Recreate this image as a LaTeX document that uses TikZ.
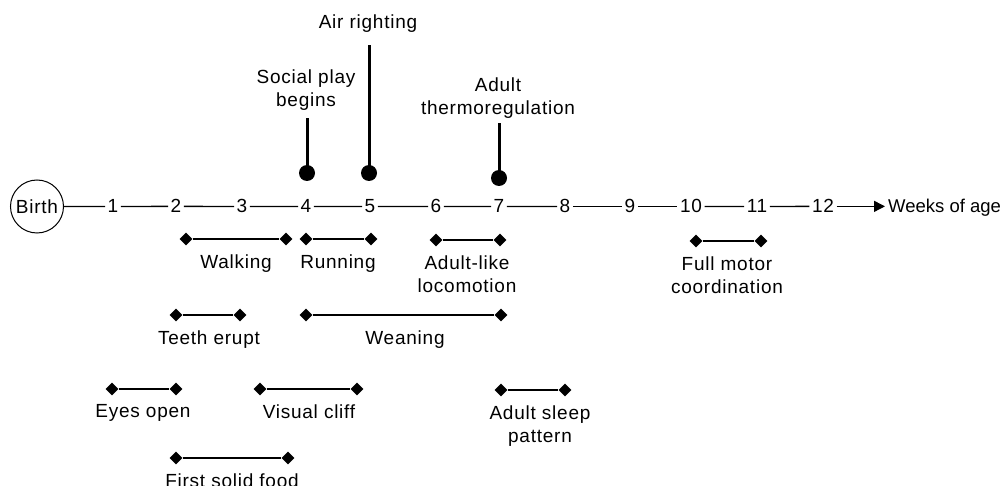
\documentclass[tikz,border=0pt]{standalone}
\usepackage{fontspec}
\setmainfont{Liberation Sans}[LetterSpace=4]
\newfontfamily\plainsans{Liberation Sans}
\usetikzlibrary{shapes.geometric,arrows.meta}
\newcommand{\myint}[6]{%
  \node[tip] (#1a) at (#2,#4) {};
  \node[tip] (#1b) at (#3,#4) {};
  \draw[bar] (#1a) -- (#1b);
  \node[lbl] (#1l) at (#5,#4+15.5) {#6};}
\begin{document}
\begin{tikzpicture}[x=1pt,y=-1pt,
  every node/.style={font=\fontsize{19}{23}\selectfont},
  num/.style={anchor=base,inner sep=2.5pt},
  axis/.style={line width=1.3pt},
  tip/.style={diamond,fill=black,inner sep=0pt,minimum size=13pt},
  bar/.style={line width=2.4pt},
  lbl/.style={anchor=north,inner sep=0pt,align=center},
  dot/.style={circle,fill=black,inner sep=0pt,minimum size=16pt},
  stem/.style={line width=3pt}]
\useasboundingbox (0,0) rectangle (1004,486);
% axis
\node[circle,draw,line width=1pt,inner sep=0pt,minimum size=53pt] (birth) at (37,206.5) {Birth};
\foreach \n/\x in {1/113,2/176,3/242,4/306,5/370,6/436,7/499,8/565,9/630,10/691,11/757,12/823}
  \node[num] (n\n) at (\x,213) {\n};
\node[anchor=base west,inner sep=3pt,font=\plainsans\fontsize{18.5}{22}\selectfont] (weeks) at (885,213) {Weeks of age};
\draw[axis] (birth.east) -- (n1.west);
\foreach \a/\b in {1/2,2/3,3/4,4/5,5/6,6/7,7/8,8/9,9/10,10/11,11/12}
  \draw[axis] (n\a.east) -- (n\b.west);
\draw[axis,-{Triangle[length=11pt,width=11pt]}] (n12.east) -- (n12.east -| weeks.west);
% point events
\node[dot] (dsoc) at (307,173) {};
\coordinate (tsoc) at (307,118);
\node[lbl] (lsoc) at (306,69.5) {Social play\\begins};
\draw[stem] (dsoc.center) -- (tsoc);
\node[dot] (dair) at (369,173) {};
\coordinate (tair) at (369,45);
\node[lbl] (lair) at (368,14.5) {Air righting};
\draw[stem] (dair.center) -- (tair);
\node[dot] (dthe) at (499,178) {};
\coordinate (tthe) at (499,123);
\node[lbl] (lthe) at (498,77.5) {Adult\\thermoregulation};
\draw[stem] (dthe.center) -- (tthe);
% intervals
\myint{walk}{186}{286}{239}{236}{Walking}
\myint{run}{306}{371}{239}{338}{Running}
\myint{loco}{436}{500}{240}{467}{Adult-like\\locomotion}
\myint{motor}{696}{761}{241}{727}{Full motor\\coordination}
\myint{teeth}{176}{240}{315}{209}{Teeth erupt}
\myint{wean}{306}{501}{315}{405}{Weaning}
\myint{eyes}{112}{176}{389}{143}{Eyes open}
\myint{cliff}{260}{357}{389}{309}{Visual cliff}
\myint{sleep}{501}{565}{390}{540}{Adult sleep\\pattern}
\myint{food}{176}{288}{458}{232}{First solid food}
\end{tikzpicture}
\end{document}
